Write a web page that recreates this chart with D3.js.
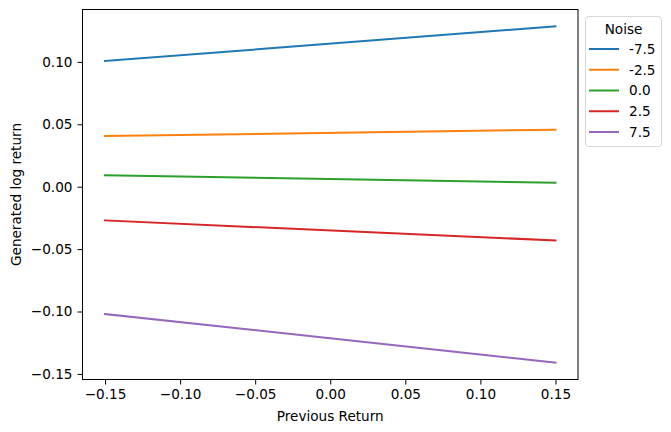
<!DOCTYPE html>
<html>
<head>
<meta charset="utf-8">
<script src="https://cdn.jsdelivr.net/npm/d3@7"></script>
<style>
  body { margin: 0; background: #fff; }
  svg { display: block; }
  text { font-family: "DejaVu Sans", sans-serif; fill: #000; }
</style>
</head>
<body>
<svg id="chart" width="671" height="432"></svg>
<script>
// ---- data ----
const prevReturn = [-0.15, 0.15];
const noiseLevels = ["-7.5", "-2.5", "0.0", "2.5", "7.5"];
const seriesNeg75 = [0.1007, 0.1285];
const seriesNeg25 = [0.0406, 0.0457];
const series00 = [0.0091, 0.0032];
const series25 = [-0.0270, -0.0431];
const series75 = [-0.1020, -0.1410];
const xTicks = [-0.15, -0.10, -0.05, 0.00, 0.05, 0.10, 0.15];
const yTicks = [-0.15, -0.10, -0.05, 0.00, 0.05, 0.10];
const colors = ["#1f77b4", "#ff7f0e", "#2ca02c", "#d62728", "#9467bd"];

const allSeries = [seriesNeg75, seriesNeg25, series00, series25, series75];

// ---- layout ----
const FS = 13.6;
const svg = d3.select("#chart");
const mLeft = 82.5, mRight = 578, mTop = 9.5, mBottom = 379.5;

const x = d3.scaleLinear().domain([-0.165, 0.165]).range([mLeft, mRight]);
const yMin = d3.min(allSeries, s => d3.min(s)), yMax = d3.max(allSeries, s => d3.max(s));
const pad = (yMax - yMin) * 0.05;
const y = d3.scaleLinear().domain([yMin - pad, yMax + pad]).range([mBottom, mTop]);

const fmt = v => (v < 0 ? "\u2212" : "") + Math.abs(v).toFixed(2);

// lines
const line = d3.line().x((d, i) => x(prevReturn[i])).y(d => y(d));
allSeries.forEach((s, k) => {
  svg.append("path").datum(s)
    .attr("d", line)
    .attr("fill", "none")
    .attr("stroke", colors[k])
    .attr("stroke-width", 2)
    .attr("stroke-linecap", "square");
});

// axes
const xAxis = d3.axisBottom(x).tickValues(xTicks).tickFormat(fmt).tickSize(5).tickPadding(4.5);
const yAxis = d3.axisLeft(y).tickValues(yTicks).tickFormat(fmt).tickSize(5).tickPadding(5);

const gx = svg.append("g").attr("transform", `translate(0,${mBottom})`).call(xAxis);
const gy = svg.append("g").attr("transform", `translate(${mLeft},0)`).call(yAxis);
[gx, gy].forEach(g => {
  g.select(".domain").remove();
  g.selectAll(".tick line").attr("stroke", "#000").attr("stroke-width", 1);
  g.selectAll(".tick text").attr("font-size", FS).attr("fill", "#000")
    .style("font-family", "DejaVu Sans, sans-serif");
});

// frame
svg.append("rect")
  .attr("x", mLeft).attr("y", mTop)
  .attr("width", mRight - mLeft).attr("height", mBottom - mTop)
  .attr("fill", "none").attr("stroke", "#000").attr("stroke-width", 1);

// axis labels
svg.append("text")
  .attr("x", (mLeft + mRight) / 2).attr("y", 421)
  .attr("text-anchor", "middle").attr("font-size", FS)
  .text("Previous Return");
svg.append("text")
  .attr("transform", `translate(20.5,${(mTop + mBottom) / 2}) rotate(-90)`)
  .attr("text-anchor", "middle").attr("font-size", FS)
  .text("Generated log return");

// legend
const lg = svg.append("g");
lg.append("rect")
  .attr("x", 585.5).attr("y", 16.5).attr("width", 76).attr("height", 130)
  .attr("rx", 3).attr("fill", "#fff").attr("fill-opacity", 0.8)
  .attr("stroke", "#d6d6d6").attr("stroke-width", 1);
lg.append("text")
  .attr("x", 623.5).attr("y", 34).attr("text-anchor", "middle")
  .attr("font-size", FS).text("Noise");
const rowY = d3.scaleLinear().domain([0, noiseLevels.length - 1]).range([49, 132]);
noiseLevels.forEach((lab, i) => {
  const yy = rowY(i);
  lg.append("line")
    .attr("x1", 589).attr("x2", 619).attr("y1", yy).attr("y2", yy)
    .attr("stroke", colors[i]).attr("stroke-width", 2);
  lg.append("text")
    .attr("x", 629).attr("y", yy + 4.8).attr("font-size", FS)
    .text(lab);
});
</script>
</body>
</html>
